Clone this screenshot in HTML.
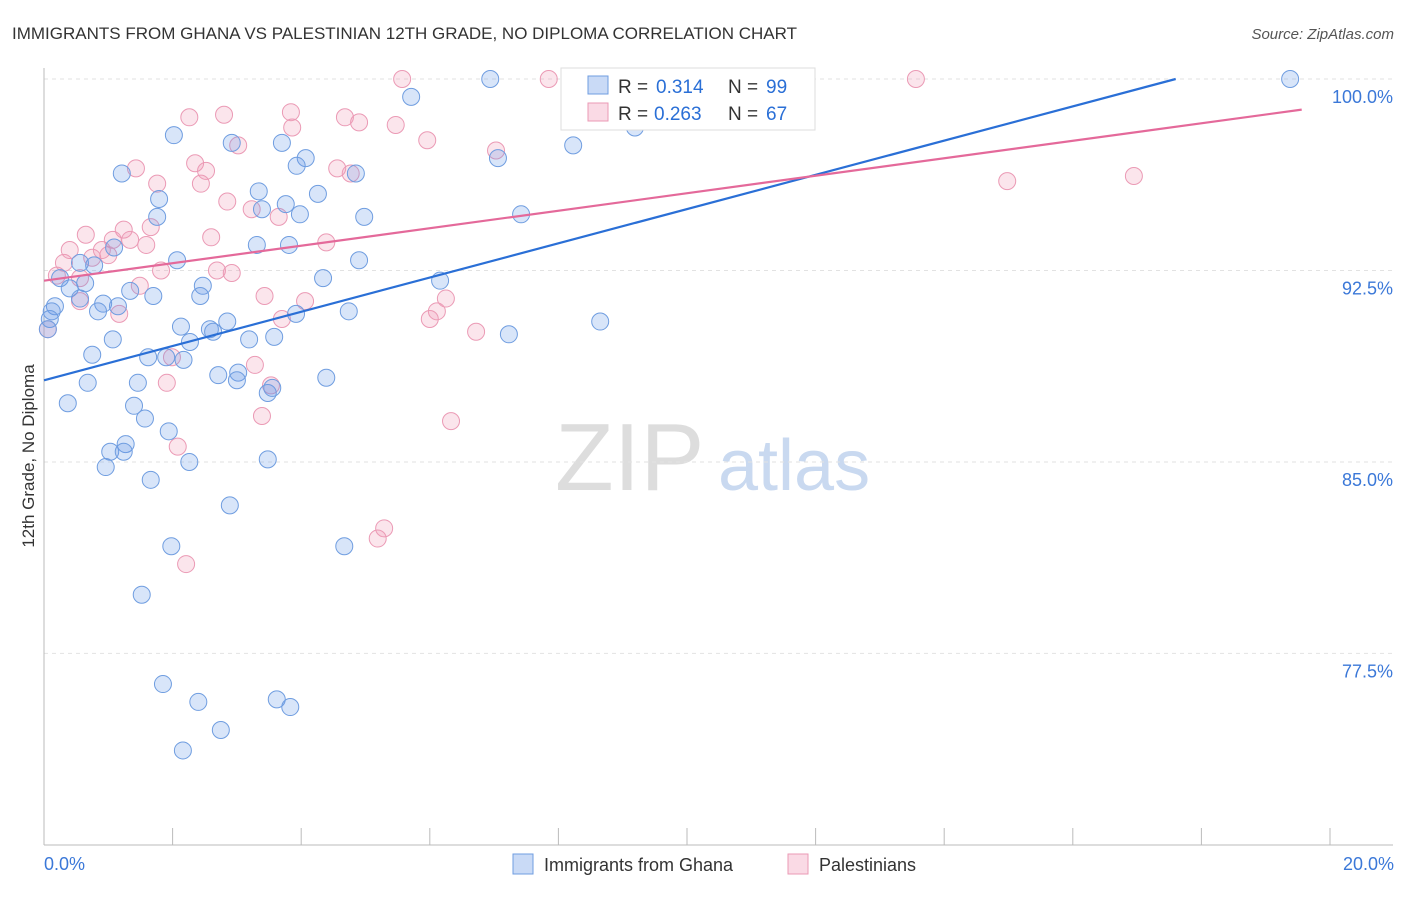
<!DOCTYPE html>
<html><head><meta charset="utf-8"><style>
body{margin:0;background:#fff;font-family:"Liberation Sans",sans-serif;}
svg text{font-family:"Liberation Sans",sans-serif;}
</style></head><body>
<svg id="chart" width="1406" height="892" xmlns="http://www.w3.org/2000/svg">
<text x="12" y="39" font-size="17" fill="#333">IMMIGRANTS FROM GHANA VS PALESTINIAN 12TH GRADE, NO DIPLOMA CORRELATION CHART</text>
<text x="1394" y="39" font-size="15" fill="#555" text-anchor="end" font-style="italic">Source: ZipAtlas.com</text>
<text x="555" y="490" font-size="96" fill="#ddd" font-family="Liberation Serif">ZIP</text>
<text x="718" y="490" font-size="72" fill="#c9d9f0">atlas</text>
<g id="grid"></g><g id="axes"></g><g id="pts"></g><g id="lines"></g>
<text transform="translate(34,456) rotate(-90)" font-size="17" fill="#333" text-anchor="middle">12th Grade, No Diploma</text>
<g>
<rect x="561" y="68" width="254" height="62" fill="#fff" stroke="#ddd"/>
<rect x="588" y="76" width="20" height="18" fill="rgba(100,150,230,0.35)" stroke="#6f9de0"/>
<text x="618" y="93" font-size="19" fill="#333">R =</text>
<text x="656" y="93" font-size="19" fill="#2a6fd6">0.314</text>
<text x="728" y="93" font-size="19" fill="#333">N =</text>
<text x="766" y="93" font-size="19" fill="#2a6fd6">99</text>
<rect x="588" y="103" width="20" height="18" fill="rgba(240,150,180,0.35)" stroke="#eb9ab5"/>
<text x="618" y="120" font-size="19" fill="#333">R =</text>
<text x="654" y="120" font-size="19" fill="#2a6fd6">0.263</text>
<text x="728" y="120" font-size="19" fill="#333">N =</text>
<text x="766" y="120" font-size="19" fill="#2a6fd6">67</text>
</g>
<g>
<rect x="513" y="854" width="20" height="20" fill="rgba(100,150,230,0.35)" stroke="#6f9de0"/>
<text x="544" y="871" font-size="18" fill="#333">Immigrants from Ghana</text>
<rect x="788" y="854" width="20" height="20" fill="rgba(240,150,180,0.35)" stroke="#eb9ab5"/>
<text x="819" y="871" font-size="18" fill="#333">Palestinians</text>
</g>
</svg>
<script>
const blueX=[6.94,19.38,5.71,2.02,2.92,3.70,8.23,9.19,4.07,3.93,7.06,1.21,4.85,3.34,4.26,1.79,3.76,3.39,3.98,1.76,4.98,7.42,3.31,3.81,1.09,2.07,4.90,0.78,0.56,4.34,6.16,0.25,0.64,1.34,2.47,1.70,2.43,0.40,0.56,0.92,1.15,0.17,0.12,0.84,4.74,3.92,8.65,2.85,2.13,2.58,2.63,7.23,3.19,3.58,1.07,2.27,0.75,1.62,1.90,2.17,2.71,3.02,3.00,0.68,1.46,4.39,3.48,3.55,0.37,1.40,1.57,1.94,1.27,1.03,1.24,2.26,3.48,0.96,1.66,2.89,1.98,4.67,1.52,1.85,2.40,3.62,3.83,2.75,2.16,0.09,0.06];
const blueY=[100,100,99.3,97.8,97.5,97.5,97.4,98.1,96.9,96.6,96.9,96.3,96.3,95.6,95.5,95.3,95.1,94.9,94.7,94.6,94.6,94.7,93.5,93.5,93.4,92.9,92.9,92.7,92.8,92.2,92.1,92.2,92.0,91.7,91.9,91.5,91.5,91.8,91.4,91.2,91.1,91.1,90.9,90.9,90.9,90.8,90.5,90.5,90.3,90.2,90.1,90.0,89.8,89.9,89.8,89.7,89.2,89.1,89.1,89.0,88.4,88.5,88.2,88.1,88.1,88.3,87.7,87.9,87.3,87.2,86.7,86.2,85.7,85.4,85.4,85.0,85.1,84.8,84.3,83.3,81.7,81.7,79.8,76.3,75.6,75.7,75.4,74.5,73.7,90.6,90.2];
const pinkX=[5.57,7.85,11.79,13.56,3.84,2.80,2.26,4.68,4.90,3.86,5.47,5.96,3.02,7.03,1.43,2.35,2.52,4.56,4.77,1.76,2.44,14.98,16.95,2.85,3.23,3.65,1.24,1.66,0.65,2.60,1.07,1.34,1.59,4.39,0.40,0.90,0.75,1.00,0.31,1.82,2.69,2.92,0.20,0.56,1.49,3.43,4.06,6.25,6.11,0.56,1.17,3.70,6.00,6.72,0.06,1.99,3.28,1.91,3.53,3.39,6.33,2.08,5.29,5.19,2.21];
const pinkY=[100,100,100,100,98.7,98.6,98.5,98.5,98.3,98.1,98.2,97.6,97.4,97.2,96.5,96.7,96.4,96.5,96.3,95.9,95.9,96.0,96.2,95.2,94.9,94.6,94.1,94.2,93.9,93.8,93.7,93.7,93.5,93.6,93.3,93.3,93.0,93.1,92.8,92.5,92.5,92.4,92.3,92.2,91.9,91.5,91.3,91.4,90.9,91.3,90.8,90.6,90.6,90.1,90.2,89.1,88.8,88.1,88.0,86.8,86.6,85.6,82.4,82.0,81.0];
const blueLine=[[0,88.2],[17.6,100]];
const pinkLine=[[0,92.1],[19.56,98.8]];
const yTicks=[100,92.5,85,77.5];
const yTickLabels=["100.0%","92.5%","85.0%","77.5%"];
const xTicks=[0,2,4,6,8,10,12,14,16,18,20];
const xs=v=>44+v*64.3;
const ys=v=>79+(100-v)*25.53;
const NS="http://www.w3.org/2000/svg";
function mk(t,a,p){const e=document.createElementNS(NS,t);for(const k in a)e.setAttribute(k,a[k]);p.appendChild(e);return e;}
const grid=document.getElementById('grid'),axes=document.getElementById('axes'),pts=document.getElementById('pts'),lines=document.getElementById('lines');
yTicks.forEach((v,i)=>{
 const l=mk('line',{x1:44,x2:1393,y1:ys(v),y2:ys(v),stroke:'#e2e2e2','stroke-dasharray':'4,4'},grid);
 
 
 const t=mk('text',{x:1393,y:ys(v)+24,'font-size':18,fill:'#3b78d8','text-anchor':'end'},axes);
 t.textContent=yTickLabels[i];
 
 
});
let a=mk('line',{x1:44,x2:44,y1:68,y2:845,stroke:'#bbb'},axes);


a=mk('line',{x1:44,x2:1393,y1:845,y2:845,stroke:'#bbb'},axes);


xTicks.forEach(v=>{
 const t=mk('line',{x1:xs(v),x2:xs(v),y1:828,y2:845,stroke:'#bbb'},axes);
 
 
});
let xl=mk('text',{x:44,y:870,'font-size':18,fill:'#3b78d8'},axes);xl.textContent='0.0%';


xl=mk('text',{x:1394,y:870,'font-size':18,fill:'#3b78d8','text-anchor':'end'},axes);xl.textContent='20.0%';


function dots(X,Y,fill,stroke,name){X.forEach((x,i)=>{
 const c=mk('circle',{cx:xs(x),cy:ys(Y[i]),r:8.5,fill:fill,stroke:stroke,'stroke-width':1},pts);
 
 
});}
dots(pinkX,pinkY,'rgba(240,150,180,0.25)','#eb9ab5','palestinian-point');
dots(blueX,blueY,'rgba(100,150,230,0.25)','#6f9de0','ghana-point');
let ln=mk('line',{x1:xs(blueLine[0][0]),y1:ys(blueLine[0][1]),x2:xs(blueLine[1][0]),y2:ys(blueLine[1][1]),stroke:'#2a6fd6','stroke-width':2.2},lines);


ln=mk('line',{x1:xs(pinkLine[0][0]),y1:ys(pinkLine[0][1]),x2:xs(pinkLine[1][0]),y2:ys(pinkLine[1][1]),stroke:'#e4699a','stroke-width':2.2},lines);


</script>
</body></html>
